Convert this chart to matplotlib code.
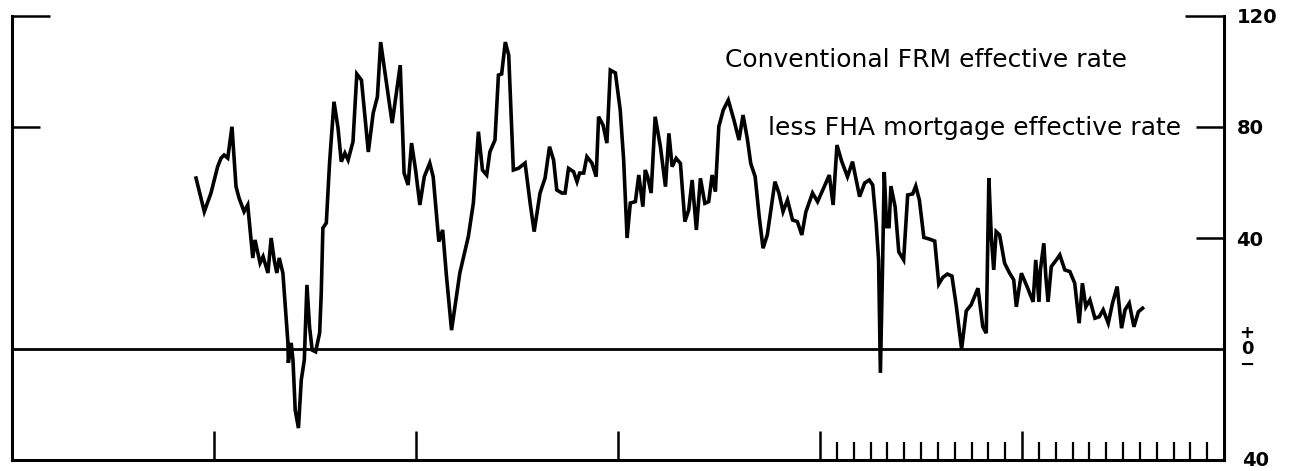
import matplotlib
matplotlib.use('Agg')
import matplotlib.pyplot as plt
from matplotlib.ticker import FixedLocator

# spread between conventional FRM and FHA effective rates, basis points
# x is years from the first major tick mark
years = [-0.089, -0.048, -0.015, 0.018, 0.035, 0.050, 0.068, 0.089, 0.109, 0.124,
         0.149, 0.167, 0.184, 0.192, 0.203, 0.217, 0.228, 0.243, 0.267, 0.283,
         0.298, 0.311, 0.323, 0.341, 0.357, 0.366, 0.368, 0.382, 0.391, 0.402,
         0.418, 0.432, 0.447, 0.460, 0.473, 0.486, 0.503, 0.523, 0.531, 0.539,
         0.556, 0.572, 0.594, 0.614, 0.630, 0.648, 0.664, 0.688, 0.707, 0.730,
         0.764, 0.788, 0.809, 0.825, 0.882, 0.922, 0.941, 0.961, 0.978, 0.998,
         1.019, 1.041, 1.068, 1.085, 1.113, 1.132, 1.151, 1.176, 1.217, 1.259,
         1.284, 1.309, 1.329, 1.350, 1.366, 1.391, 1.408, 1.424, 1.442, 1.459,
         1.482, 1.507, 1.540, 1.565, 1.585, 1.614, 1.639, 1.661, 1.681, 1.697,
         1.722, 1.738, 1.755, 1.780, 1.797, 1.810, 1.830, 1.846, 1.871, 1.892,
         1.904, 1.926, 1.945, 1.962, 1.987, 2.011, 2.028, 2.045, 2.061, 2.086,
         2.103, 2.123, 2.135, 2.147, 2.164, 2.184, 2.210, 2.235, 2.252, 2.268,
         2.288, 2.309, 2.331, 2.350, 2.367, 2.388, 2.408, 2.430, 2.449, 2.466,
         2.482, 2.499, 2.521, 2.546, 2.574, 2.599, 2.619, 2.640, 2.657, 2.679,
         2.699, 2.718, 2.739, 2.777, 2.797, 2.817, 2.839, 2.864, 2.888, 2.910,
         2.930, 2.963, 2.988, 3.021, 3.046, 3.065, 3.084, 3.107, 3.136, 3.161,
         3.196, 3.221, 3.244, 3.261, 3.278, 3.290, 3.299, 3.310, 3.318, 3.330,
         3.342, 3.351, 3.372, 3.390, 3.414, 3.434, 3.459, 3.474, 3.492, 3.514,
         3.542, 3.568, 3.588, 3.608, 3.630, 3.653, 3.674, 3.701, 3.724, 3.748,
         3.782, 3.806, 3.823, 3.836, 3.848, 3.860, 3.872, 3.889, 3.914, 3.939,
         3.959, 3.972, 3.997, 4.025, 4.055, 4.068, 4.084, 4.091, 4.108, 4.118,
         4.129, 4.145, 4.170, 4.187, 4.212, 4.237, 4.261, 4.283, 4.299, 4.316,
         4.336, 4.361, 4.382, 4.402, 4.427, 4.448, 4.471, 4.493, 4.510, 4.531,
         4.554, 4.576, 4.597]
spread = [61.6, 49.5, 56.2, 65.7, 68.8, 69.9, 68.8, 80.1, 58.5, 54.4,
          49.5, 51.9, 38.7, 32.8, 39.3, 34.6, 31.0, 33.3, 27.4, 40.0,
          32.1, 27.4, 32.8, 27.4, 11.6, 2.2, -5.0, 2.2, -4.0, -22.0,
          -28.5, -11.2, -4.0, 23.1, 8.0, -0.4, -1.0, 5.8, 20.2, 43.6,
          45.4, 67.0, 89.1, 79.6, 67.5, 70.6, 68.1, 74.7, 99.1, 96.9,
          71.0, 85.0, 90.9, 110.6, 81.4, 102.3, 63.4, 59.1, 74.2, 64.5,
          51.9, 62.1, 67.0, 62.1, 38.7, 42.9, 26.1, 6.8, 27.4, 40.5,
          52.6, 78.3, 64.5, 62.7, 71.1, 75.3, 98.7, 99.1, 110.6, 105.9,
          64.5, 65.1, 67.0, 52.6, 42.3, 56.2, 61.6, 72.9, 68.1, 57.3,
          56.2, 56.2, 65.1, 63.9, 60.3, 63.4, 63.4, 69.3, 67.0, 62.1,
          83.7, 80.7, 74.2, 100.5, 99.5, 86.1, 68.1, 40.0, 52.6, 53.1,
          62.7, 51.3, 64.5, 62.1, 56.2, 83.7, 72.9, 58.5, 77.7, 65.7,
          68.7, 66.9, 45.9, 50.1, 60.9, 42.9, 61.5, 52.5, 53.1, 62.7,
          56.7, 80.1, 86.1, 89.7, 82.5, 75.3, 84.3, 75.9, 66.9, 62.1,
          47.7, 36.3, 41.1, 60.3, 56.1, 49.5, 53.7, 46.5, 45.9, 41.1,
          49.4, 56.2, 53.1, 58.5, 62.7, 51.9, 73.5, 67.7, 62.1, 67.5,
          54.9, 59.8, 60.9, 59.1, 45.4, 32.1, -8.6, 31.0, 63.8, 44.1,
          44.1, 58.7, 51.2, 35.0, 32.1, 55.5, 55.9, 58.7, 53.7, 40.2,
          39.6, 38.9, 23.4, 25.8, 27.0, 26.3, 15.9, 0.0, 13.7, 15.9,
          21.9, 8.0, 5.7, 61.5, 40.5, 28.5, 42.3, 41.1, 30.9, 27.3,
          24.9, 15.2, 27.3, 22.5, 17.0, 32.1, 17.0, 28.5, 38.1, 26.1,
          17.0, 29.7, 32.1, 33.9, 28.5, 27.9, 23.7, 9.3, 23.7, 15.2,
          17.7, 11.1, 11.6, 14.1, 9.3, 16.5, 22.5, 7.5, 14.1, 16.5,
          8.0, 13.4, 14.7]

majorYears = [0, 1, 2, 3, 4]
monthTicks = [3 + m / 12 for m in range(1, 24) if m != 12]
rightTicks = [80, 40]
rightLabels = ['80', '40']
topTick = [120]
headLine1 = 'Conventional FRM effective rate'
headLine2 = 'less FHA mortgage effective rate'

FONT = 'DejaVu Sans'


def makeAxes():
    #frame is open at the top, ticks point inward
    fig = plt.figure(figsize=(12.95, 4.71), dpi=100)
    ax = fig.add_axes([12 / 1295, 1 - 460 / 471, 1212 / 1295, 444 / 471])
    ax.set_xlim(-1, 5)
    ax.set_ylim(-40, 120)
    ax.spines['top'].set_visible(False)
    for side in ['left', 'right', 'bottom']:
        ax.spines[side].set_linewidth(2.2)
    return fig, ax


def setTicks(ax):
    #bottom: yearly marks, monthly marks for the last two years
    ax.xaxis.set_major_locator(FixedLocator(majorYears))
    ax.xaxis.set_minor_locator(FixedLocator(monthTicks))
    ax.tick_params(axis='x', which='major', direction='in', length=21, width=1.8,
                   labelbottom=False, top=False)
    ax.tick_params(axis='x', which='minor', direction='in', length=13, width=1.6,
                   labelbottom=False, top=False)
    #left side only has the 120 and 80 marks
    ax.yaxis.set_major_locator(FixedLocator([80]))
    ax.yaxis.set_minor_locator(FixedLocator(topTick))
    ax.tick_params(axis='y', which='major', direction='in', length=20, width=1.8,
                   labelleft=False, right=False)
    ax.tick_params(axis='y', which='minor', direction='in', length=27, width=1.8,
                   labelleft=False, right=False)
    #right side carries the labels
    ax2 = ax.twinx()
    ax2.set_ylim(ax.get_ylim())
    for side in ax2.spines:
        ax2.spines[side].set_visible(False)
    ax2.set_yticks(rightTicks)
    ax2.set_yticklabels(rightLabels)
    ax2.set_yticks(topTick, minor=True)
    ax2.set_yticklabels(['120'], minor=True)
    ax2.tick_params(axis='y', which='major', direction='in', length=20, width=1.8,
                    pad=9, labelsize=14)
    ax2.tick_params(axis='y', which='minor', direction='in', length=28, width=1.8,
                    pad=9, labelsize=14)
    for lab in ax2.get_yticklabels(which='both'):
        lab.set_family(FONT)
        lab.set_fontweight('bold')
    tr = ax2.get_yaxis_transform()
    ax2.text(1.019, 0, '+\n0\n\u2212', transform=tr, ha='center', va='center',
             fontsize=13, fontweight='bold', linespacing=0.85, family=FONT)
    ax2.text(1.015, -40, '40', transform=tr, ha='left', va='center',
             fontsize=14, fontweight='bold', family=FONT)
    return ax2


def drawChart():
    fig, ax = makeAxes()
    ax.axhline(0, color='black', lw=2.0, zorder=1)
    ax.plot(years, spread, color='black', lw=2.6, solid_joinstyle='miter', zorder=2)
    setTicks(ax)
    ax.text(2.53, 104, headLine1, ha='left', va='center', fontsize=18, family=FONT)
    ax.text(2.743, 79.6, headLine2, ha='left', va='center', fontsize=18, family=FONT)
    fig.savefig('out.png', dpi=100)


drawChart()
